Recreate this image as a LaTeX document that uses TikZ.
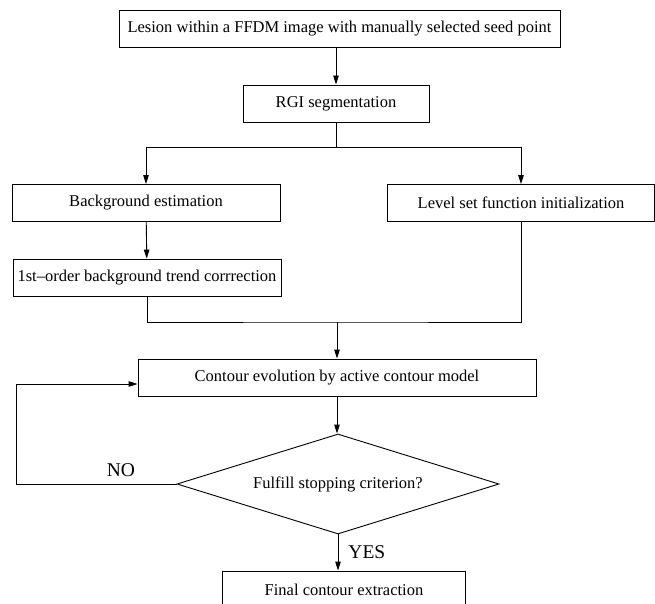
\documentclass[tikz,border=0pt]{standalone}
\usepackage{fontspec}
\setmainfont{Liberation Serif}
\usetikzlibrary{shapes.geometric, arrows.meta}

\begin{document}
\begin{tikzpicture}[x=1pt, y=-1pt, >={Triangle[length=9pt, width=5.5pt]},
  line width=0.9pt,
  stepbox/.style={draw, rectangle, inner xsep=0pt, minimum height=37pt,
    font=\fontsize{16.5}{19}\selectfont},
  testbox/.style={draw, diamond, inner sep=0pt, shape aspect=3.22,
    minimum width=322pt, minimum height=100pt,
    font=\fontsize{16.5}{19}\selectfont},
  answer/.style={inner sep=0pt, font=\fontsize{19.5}{22}\selectfont}]
  \useasboundingbox (0,0) rectangle (655,604);

  % Eingabe und Segmentierung
  \node[stepbox, minimum width=441pt] (lesion) at (339.5,29) {Lesion within a FFDM image with manually selected seed point};
  \node[stepbox, minimum width=186pt] (rgi) at (336,103.5) {RGI segmentation};

  % zwei Zweige
  \node[stepbox, minimum width=268pt] (backgr) at (146,203) {Background estimation};
  \node[stepbox, minimum width=267pt] (levelset) at (521,203) {Level set function initialization};
  \node[stepbox, minimum width=268pt] (trend) at (147,277.5) {1st--order background trend corrrection};

  % Konturentwicklung
  \node[stepbox, minimum width=398pt] (evol) at (337,377.5) {Contour evolution by active contour model};
  \node[testbox] (crit) at (338,484) {Fulfill stopping criterion?};
  \node[stepbox, minimum width=243pt] (final) at (344,589.5) {Final contour extraction};
  \coordinate (join) at (337,322);

  % Pfeile
  \draw[->] (lesion.south -| rgi.north) -- (rgi.north);
  \draw[->] (rgi.south) -- ++(0,25) -| (backgr.north);
  \draw[->] (rgi.south) -- ++(0,25) -| (levelset.north);
  \draw[->] (backgr) -- (trend);
  \draw (trend.south) |- (join) -| (levelset.south);
  \draw[->] (join) -- (evol.north);
  \draw[->] (evol.south) -- (evol.south |- crit.north);
  \draw[->] (crit.west) -- ++(-160,0) |- ([yshift=-6.5pt]evol.west);
  \draw[->] (crit.south) -- (crit.south |- final.north);

  % Antworten
  \node[answer] (no) at (121,470) {NO};
  \node[answer, anchor=west] (yes) at (348,552) {YES};
\end{tikzpicture}
\end{document}
